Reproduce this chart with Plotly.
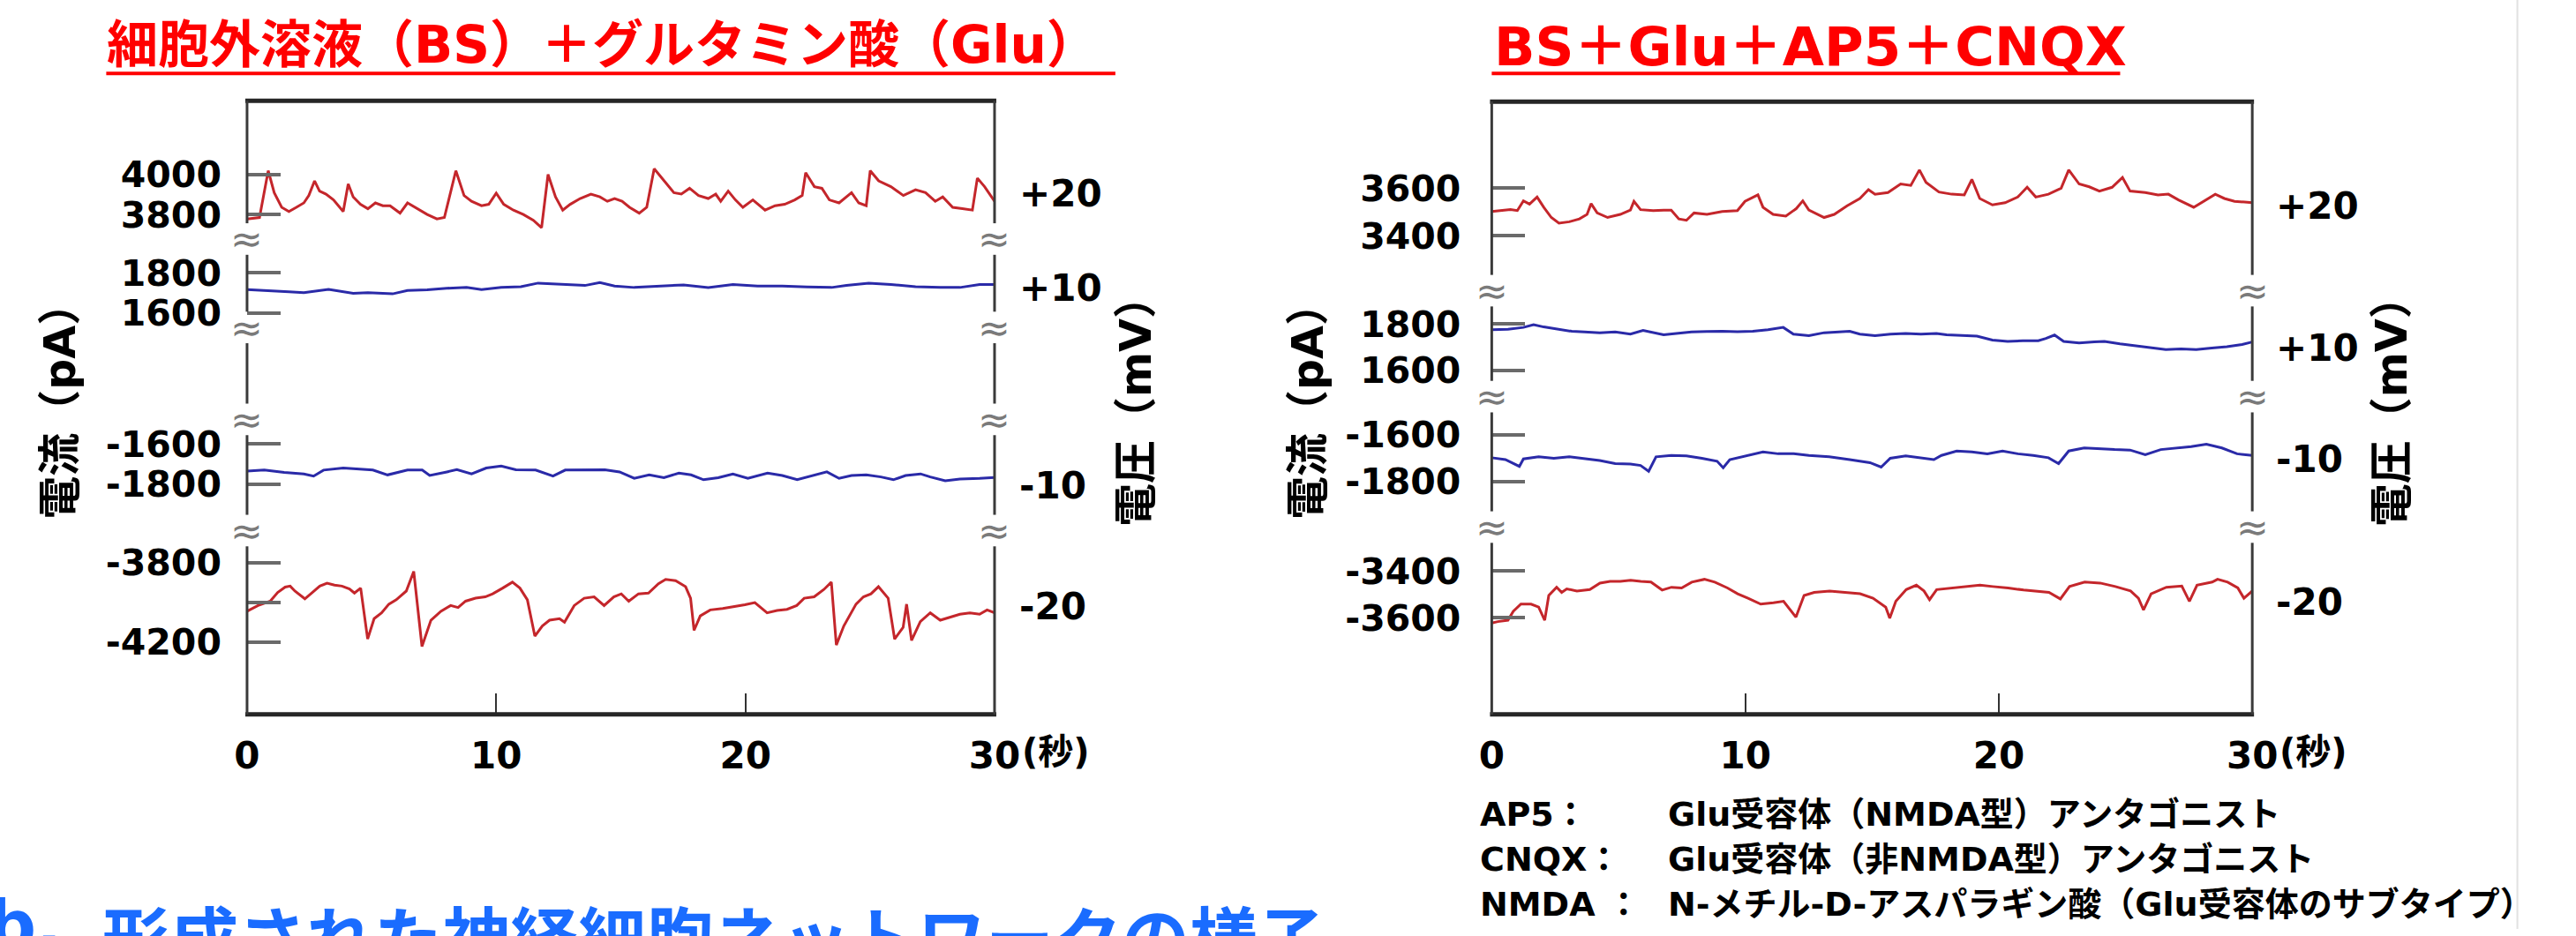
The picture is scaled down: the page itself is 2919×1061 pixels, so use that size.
import plotly.graph_objects as go

W, H = 2919, 1061
LAT = "DejaVu Sans, Noto Sans CJK JP, sans-serif"
JP = "Noto Sans CJK JP, DejaVu Sans, sans-serif"
RED = "#c4262b"
BLUE = "#2a2aa8"

# ---------------- data (time in s, current in pA) ----------------
# Left panel: BS + Glu
left_t_p20 = [0, 0.50, 0.85, 1.09, 1.39, 1.68, 1.98, 2.28, 2.48, 2.71, 2.91, 3.17, 3.47, 3.86, 4.06, 4.26, 4.55,
              4.85, 5.15, 5.45, 5.74, 6.14, 6.44, 6.83, 7.23, 7.62, 7.92, 8.38, 8.71, 9.01, 9.41, 9.70, 10.00,
              10.30, 10.69, 11.09, 11.49, 11.82, 12.08, 12.38, 12.67, 12.97, 13.37, 13.80, 14.16, 14.46, 14.75,
              15.05, 15.35, 15.74, 16.04, 16.34, 16.73, 17.13, 17.43, 17.76, 18.12, 18.51, 18.81, 19.01, 19.31,
              19.60, 19.90, 20.30, 20.79, 21.19, 21.58, 21.98, 22.28, 22.42, 22.77, 23.07, 23.37, 23.76, 24.26,
              24.55, 24.85, 25.01, 25.35, 25.84, 26.34, 26.83, 27.23, 27.62, 27.92, 28.32, 28.71, 29.11, 29.31,
              29.60, 30.00]
left_i_p20 = [3778, 3785, 4019, 3909, 3836, 3815, 3836, 3858, 3895, 3968, 3917, 3902, 3873, 3815, 3953, 3888, 3851,
              3829, 3858, 3844, 3844, 3807, 3858, 3829, 3800, 3778, 3785, 4019, 3895, 3866, 3844, 3851, 3907,
              3851, 3822, 3800, 3771, 3734, 4000, 3888, 3822, 3851, 3880, 3902, 3888, 3866, 3880,
              3866, 3836, 3807, 3836, 4029, 3968, 3909, 3902, 3931, 3895, 3880, 3902, 3866, 3917,
              3873, 3836, 3873, 3822, 3844, 3851, 3873, 3895, 4009, 3939, 3931, 3873, 3858, 3909,
              3858, 3844, 4019, 3968, 3939, 3895, 3924, 3909, 3866, 3888, 3836, 3829, 3822, 3982,
              3939, 3866]

left_t_p10 = [0, 0.89, 1.68, 2.28, 3.27, 4.26, 4.85, 5.84, 6.44, 7.23, 8.02, 8.81, 9.41, 10.20, 10.99, 11.68,
              12.57, 13.56, 14.16, 14.75, 15.54, 16.53, 17.52, 18.51, 19.50, 20.49, 21.48, 22.47, 23.46, 24.06,
              24.95, 25.84, 26.83, 27.82, 28.61, 29.40, 30.00]
left_i_p10 = [1717, 1709, 1705, 1701, 1717, 1698, 1701, 1695, 1712, 1715, 1723, 1727, 1717, 1727, 1731, 1749,
              1742, 1737, 1752, 1734, 1727, 1734, 1740, 1727, 1742, 1734, 1734, 1730, 1727, 1737,
              1749, 1742, 1731, 1727, 1727, 1742, 1742]

left_t_m10 = [0, 0.69, 1.49, 2.28, 2.67, 3.07, 3.86, 4.46, 5.05, 5.64, 6.44, 7.03, 7.33, 8.02, 8.42, 9.01, 9.60,
              10.20, 10.79, 11.58, 12.28, 12.77, 13.56, 14.36, 14.95, 15.54, 16.14, 16.73, 17.33, 17.82, 18.32,
              18.91, 19.50, 20.10, 20.89, 21.48, 22.08, 22.67, 23.27, 23.76, 24.26, 24.85, 25.44, 25.94, 26.43,
              27.03, 27.42, 28.02, 28.61, 29.40, 30.00]
left_i_m10 = [-1735, -1730, -1742, -1749, -1760, -1730, -1720, -1725, -1730, -1754, -1730, -1730, -1757, -1739,
              -1728, -1749, -1720, -1710, -1728, -1730, -1760, -1730, -1730, -1728, -1739, -1771, -1754, -1768,
              -1745, -1754, -1778, -1768, -1749, -1771, -1745, -1757, -1778, -1757, -1739, -1771, -1757, -1754,
              -1764, -1778, -1757, -1749, -1764, -1783, -1774, -1771, -1767]

left_t_m20 = [0, 0.44, 0.93, 1.23, 1.53, 1.73, 1.92, 2.32, 2.62, 2.92, 3.21, 3.51, 3.81, 4.11, 4.31, 4.56, 4.84,
              5.10, 5.40, 5.69, 5.99, 6.39, 6.69, 7.02, 7.38, 7.78, 8.17, 8.47, 8.77, 9.17, 9.56, 9.86, 10.26,
              10.65, 10.95, 11.25, 11.55, 11.85, 12.14, 12.54, 12.74, 13.13, 13.53, 13.93, 14.33, 14.72, 15.02,
              15.32, 15.71, 16.11, 16.51, 16.80, 17.20, 17.60, 17.80, 17.94, 18.19, 18.59, 19.09, 19.48, 19.98,
              20.38, 20.87, 21.27, 21.67, 22.06, 22.36, 22.76, 23.15, 23.45, 23.65, 23.95, 24.44, 24.74, 25.04,
              25.34, 25.73, 25.99, 26.33, 26.47, 26.67, 27.02, 27.42, 27.82, 28.21, 28.61, 29.01, 29.40, 29.70,
              30.00]
left_i_m20 = [-4045, -4016, -3994, -3950, -3923, -3918, -3943, -3982, -3950, -3918, -3903, -3913, -3918, -3932,
              -3953, -3928, -4185, -4082, -4053, -4009, -3987, -3943, -3844, -4222, -4090, -4045, -4016, -4026,
              -3994, -3979, -3972, -3957, -3928, -3898, -3928, -3987, -4170, -4119, -4090, -4082, -4100, -4016,
              -3979, -3972, -4016, -3972, -3957, -3994, -3957, -3953, -3906, -3884, -3891, -3921, -3979, -4141,
              -4068, -4038, -4031, -4023, -4012, -4001, -4053, -4041, -4035, -4016, -3979, -3972, -3935, -3898,
              -4215, -4119, -4009, -3972, -3957, -3921, -3979, -4185, -4126, -4009, -4192, -4097, -4053, -4090,
              -4075, -4060, -4053, -4060, -4038, -4053]

# Right panel: BS + Glu + AP5 + CNQX
right_t_p20 = [0, 0.34, 0.74, 1.01, 1.25, 1.49, 1.79, 2.05, 2.35, 2.65, 3.06, 3.46, 3.76, 3.92, 4.16, 4.57, 5.07,
               5.47, 5.61, 5.87, 6.37, 6.78, 7.08, 7.38, 7.68, 7.98, 8.49, 9.09, 9.69, 9.99, 10.50, 10.70, 11.10,
               11.60, 12.01, 12.27, 12.51, 13.11, 13.51, 14.02, 14.52, 14.86, 15.12, 15.63, 16.13, 16.53, 16.87,
               17.13, 17.64, 18.14, 18.64, 18.94, 19.25, 19.75, 20.25, 20.75, 21.12, 21.46, 21.96, 22.46, 22.76,
               23.17, 23.57, 23.97, 24.47, 24.88, 25.18, 25.78, 26.28, 26.69, 27.09, 27.69, 28.19, 28.54, 28.90,
               29.30, 29.70, 30.00]
right_i_p20 = [3502, 3506, 3510, 3506, 3547, 3533, 3563, 3520, 3477, 3453, 3459, 3471, 3490, 3535, 3496, 3477, 3490,
               3508, 3545, 3510, 3506, 3508, 3508, 3471, 3465, 3496, 3490, 3502, 3506, 3545, 3572, 3520, 3490,
               3483, 3514, 3547, 3508, 3477, 3490, 3526, 3557, 3594, 3575, 3582, 3618, 3612, 3677,
               3625, 3584, 3575, 3572, 3637, 3557, 3530, 3539, 3563, 3604, 3563, 3575, 3600, 3677,
               3618, 3606, 3588, 3604, 3645, 3588, 3582, 3572, 3575, 3551, 3520, 3551, 3575, 3557,
               3545, 3542, 3539]

right_t_p10 = [0, 0.64, 1.25, 1.65, 2.05, 2.65, 3.16, 3.66, 4.26, 4.87, 5.47, 5.97, 6.27, 6.78, 7.28, 7.88, 8.49,
               9.09, 9.69, 10.30, 10.90, 11.50, 11.90, 12.51, 13.11, 13.72, 14.12, 14.52, 15.12, 15.73, 16.33,
               16.93, 17.54, 17.94, 18.54, 19.14, 19.75, 20.35, 20.95, 21.56, 21.86, 22.20, 22.56, 23.17, 23.77,
               24.17, 24.78, 25.38, 25.98, 26.59, 27.19, 27.79, 28.40, 29.00, 29.60, 30.00]
right_i_p10 = [1775, 1777, 1785, 1797, 1787, 1777, 1768, 1765, 1762, 1765, 1756, 1772, 1765, 1753, 1759, 1765, 1767,
               1768, 1766, 1768, 1775, 1785, 1756, 1749, 1762, 1765, 1768, 1756, 1749, 1756, 1759,
               1756, 1759, 1753, 1749, 1747, 1730, 1724, 1727, 1727, 1737, 1752, 1724, 1718, 1722,
               1724, 1714, 1705, 1696, 1689, 1692, 1689, 1696, 1701, 1711, 1722]

right_t_m10 = [0, 0.54, 1.09, 1.25, 1.85, 2.45, 3.06, 3.66, 4.26, 4.87, 5.47, 5.87, 6.19, 6.48, 7.08, 7.68, 8.29,
               8.89, 9.13, 9.39, 9.89, 10.70, 11.30, 11.91, 12.51, 13.31, 14.12, 14.92, 15.36, 15.72, 16.33,
               16.93, 17.44, 17.74, 18.34, 18.94, 19.55, 20.15, 20.75, 21.36, 21.96, 22.36, 22.76, 23.37, 23.97,
               24.57, 25.18, 25.78, 26.39, 26.99, 27.59, 28.19, 28.80, 29.40, 30.00]
right_i_m10 = [-1698, -1706, -1735, -1703, -1694, -1700, -1694, -1703, -1710, -1723, -1725, -1731, -1756, -1694,
               -1688, -1690, -1700, -1713, -1741, -1706, -1694, -1673, -1681, -1681, -1688, -1694, -1706, -1719,
               -1738, -1700, -1690, -1698, -1706, -1688, -1669, -1673, -1681, -1669, -1681, -1688, -1698, -1723,
               -1669, -1656, -1660, -1663, -1665, -1685, -1663, -1656, -1650, -1640, -1656, -1681, -1688]

right_t_m20 = [0, 0.24, 0.64, 0.85, 1.15, 1.55, 1.85, 2.09, 2.25, 2.56, 2.76, 2.96, 3.36, 3.87, 4.27, 4.67, 5.07,
               5.48, 5.88, 6.28, 6.72, 7.09, 7.49, 7.89, 8.39, 8.80, 9.30, 9.70, 10.11, 10.61, 11.11, 11.51, 12.00,
               12.32, 12.72, 13.33, 13.93, 14.53, 15.04, 15.54, 15.70, 15.94, 16.35, 16.75, 17.05, 17.27, 17.55,
               18.16, 18.76, 19.26, 19.77, 20.37, 20.98, 21.48, 21.98, 22.43, 22.79, 23.39, 24.00, 24.60, 25.20,
               25.51, 25.71, 26.01, 26.61, 27.22, 27.52, 27.82, 28.42, 28.63, 29.03, 29.43, 29.67, 30.00]
right_i_m20 = [-3622, -3616, -3610, -3572, -3541, -3541, -3554, -3610, -3504, -3469, -3491, -3476, -3485, -3479,
               -3451, -3444, -3444, -3439, -3444, -3447, -3481, -3469, -3472, -3447, -3435, -3447, -3472, -3497,
               -3516, -3541, -3535, -3529, -3597, -3504, -3491, -3485, -3491, -3497, -3516, -3554, -3601, -3529,
               -3479, -3460, -3485, -3522, -3479, -3472, -3466, -3460, -3466, -3472, -3481, -3485, -3491, -3519,
               -3466, -3447, -3451, -3466, -3485, -3516, -3566, -3497, -3469, -3464, -3529, -3460, -3447, -3435,
               -3447, -3472, -3516, -3485]

# tick values / labels
x_tick_vals = [0, 10, 20, 30]
x_tick_text = ["0", "10", "20", "30"]
left_ticks = [([3800, 4000], ["3800", "4000"]),
              ([1600, 1800], ["1600", "1800"]),
              ([-1800, -1600], ["-1800", "-1600"]),
              ([-4200, -4000, -3800], ["-4200", "", "-3800"])]
right_ticks = [([3400, 3600], ["3400", "3600"]),
               ([1600, 1800], ["1600", "1800"]),
               ([-1800, -1600], ["-1800", "-1600"]),
               ([-3600, -3400], ["-3600", "-3400"])]
voltage_labels = ["+20", "+10", "-10", "-20"]
titles = ["細胞外溶液（BS）＋グルタミン酸（Glu）", "BS＋Glu＋AP5＋CNQX"]
legend_keys = ["AP5：", "CNQX：", "NMDA ："]
legend_desc = ["Glu受容体（NMDA型）アンタゴニスト",
               "Glu受容体（非NMDA型）アンタゴニスト",
               "N-メチル-D-アスパラギン酸（Glu受容体のサブタイプ）"]
bottom_text = "形成された神経細胞ネットワークの様子"

# ---------------- layout geometry (pixels) ----------------
panels = [
    dict(x0=269, x1=1129, top=115, bottom=816, breaks=[273, 374, 479, 606],
         # (top px, bottom px, value1, px1, value2, px2)
         segs=[(115, 273, 4000, 199.3, 3800, 245.0),
               (273, 374, 1800, 311.7, 1600, 357.3),
               (479, 606, -1600, 507.0, -1800, 553.0),
               (606, 816, -3800, 642.7, -4200, 733.3)],
         ticks=left_ticks,
         series=[(left_t_p20, left_i_p20, RED), (left_t_p10, left_i_p10, BLUE),
                 (left_t_m10, left_i_m10, BLUE), (left_t_m20, left_i_m20, RED)],
         mv_y=[221, 329, 555, 693], mv_x=1156, standoff=28,
         title=titles[0], title_x=107, title_y=51, title_size=58, ul=(107, 1268),
         ylab_x=54, vlab_x=1292),
    dict(x0=1701, x1=2576, top=116, bottom=816, breaks=[332, 453, 602],
         segs=[(116, 332, 3600, 215.0, 3400, 269.3),
               (332, 453, 1800, 370.0, 1600, 422.7),
               (453, 602, -1600, 496.7, -1800, 550.0),
               (602, 816, -3400, 652.3, -3600, 705.7)],
         ticks=right_ticks,
         series=[(right_t_p20, right_i_p20, RED), (right_t_p10, right_i_p10, BLUE),
                 (right_t_m10, right_i_m10, BLUE), (right_t_m20, right_i_m20, RED)],
         mv_y=[235, 397, 524, 688], mv_x=2602, standoff=34,
         title=titles[1], title_x=1703, title_y=53, title_size=61, ul=(1701, 2424),
         ylab_x=1490, vlab_x=2737),
]


def fx(p):
    return p / W


def fy(p):
    return 1 - p / H


def seg_range(top, bot, v1, p1, v2, p2):
    k = (v1 - v2) / (p2 - p1)
    return [v1 - (bot - p1) * k, v1 + (p1 - top) * k]


def ann(text, x, y, size, color="black", xanchor="center", yanchor="middle", angle=0,
        family=LAT, weight="bold", bg=None):
    d = dict(text=text, x=fx(x), y=fy(y), xref="paper", yref="paper", xanchor=xanchor,
             yanchor=yanchor, showarrow=False, textangle=angle, borderpad=0,
             font=dict(family=family, size=size, color=color, weight=weight))
    if bg:
        d["bgcolor"] = bg
    return d


def line(x0, y0, x1, y1, color, width):
    return dict(type="line", xref="paper", yref="paper", x0=fx(x0), y0=fy(y0), x1=fx(x1), y1=fy(y1),
                line=dict(color=color, width=width), layer="above")


fig = go.Figure()
layout = dict(width=W, height=H, margin=dict(l=0, r=0, t=0, b=0), paper_bgcolor="white",
              plot_bgcolor="rgba(0,0,0,0)", showlegend=False, shapes=[], annotations=[])

yidx = 0
for pi, p in enumerate(panels):
    xname = "xaxis" if pi == 0 else "xaxis2"
    xref = "x" if pi == 0 else "x2"
    seg_refs = []
    for si, seg in enumerate(p["segs"]):
        yidx += 1
        yname = "yaxis" if yidx == 1 else f"yaxis{yidx}"
        yref = "y" if yidx == 1 else f"y{yidx}"
        seg_refs.append(yref)
        top, bot = seg[0], seg[1]
        tv, tt = p["ticks"][si]
        layout[yname] = dict(domain=[fy(bot), fy(top)], range=seg_range(*seg), anchor=xref,
                             tickvals=tv, ticktext=tt, ticks="inside", ticklen=38, tickwidth=4,
                             tickcolor="#6a6a6a", showline=False, showgrid=False, zeroline=False,
                             ticklabelstandoff=p["standoff"], fixedrange=True,
                             tickfont=dict(family=LAT, size=41, color="black", weight="bold"))
        t, v, c = p["series"][si]
        fig.add_trace(go.Scatter(x=t, y=v, mode="lines", xaxis=xref, yaxis=yref,
                                 line=dict(color=c, width=3), hoverinfo="skip"))
    layout[xname] = dict(domain=[fx(p["x0"]), fx(p["x1"])], range=[0, 30], anchor=seg_refs[-1],
                         tickvals=x_tick_vals, ticktext=x_tick_text, ticks="inside", ticklen=24,
                         tickwidth=2, tickcolor="#333333", showline=False, showgrid=False,
                         zeroline=False, ticklabelstandoff=18, fixedrange=True,
                         tickfont=dict(family=LAT, size=42, color="black", weight="bold"))

    # frame: top / bottom
    layout["shapes"].append(line(p["x0"] - 2, p["top"], p["x1"] + 2, p["top"], "#262626", 5))
    layout["shapes"].append(line(p["x0"] - 2, p["bottom"], p["x1"] + 2, p["bottom"], "#262626", 5))
    # frame sides with gaps at breaks
    ys = [p["top"]]
    for b in p["breaks"]:
        ys += [b - 18, b + 18]
    ys.append(p["bottom"])
    for xs in (p["x0"], p["x1"]):
        for k in range(0, len(ys), 2):
            layout["shapes"].append(line(xs, ys[k], xs, ys[k + 1], "#3a3a3a", 3))
        for b in p["breaks"]:
            layout["annotations"].append(ann("≈", xs, b, 44, color="#7a7a7a", weight="normal"))

    # title + underline
    layout["annotations"].append(ann(p["title"], p["title_x"], p["title_y"], p["title_size"],
                                     color="#ff0000", xanchor="left"))
    layout["shapes"].append(line(p["ul"][0], 84, p["ul"][1], 84, "#ff0000", 4))
    # axis titles
    layout["annotations"].append(ann("電流（pA）", p["ylab_x"], 458, 49, angle=-90))
    layout["annotations"].append(ann("電圧（mV）", p["vlab_x"], 458, 49, angle=-90))
    # voltage labels
    for lab, yy in zip(voltage_labels, p["mv_y"]):
        layout["annotations"].append(ann(lab, p["mv_x"], yy, 42, xanchor="left"))
    # seconds unit
    layout["annotations"].append(ann("(秒)", p["x1"] + 30, 858, 40, xanchor="left"))

# legend text
for k, (key, desc) in enumerate(zip(legend_keys, legend_desc)):
    yy = 930 + 51.5 * k
    layout["annotations"].append(ann(key, 1686, yy, 38, xanchor="left"))
    layout["annotations"].append(ann(desc, 1903, yy, 38, xanchor="left"))

# bottom (cut-off) blue heading
layout["annotations"].append(ann("b.", -30, 1011, 77, color="#1a6cff", xanchor="left", yanchor="top"))
layout["annotations"].append(ann(bottom_text, 102, 1011, 77, color="#1a6cff", xanchor="left",
                                 yanchor="top", family=JP))

# faint page border line at right
layout["shapes"].append(line(2881, 0, 2881, H, "#e2e2e2", 2))

fig.update_layout(**layout)
fig.write_html("out.html", config={"displayModeBar": False},
               post_script="document.body.style.margin='0';document.body.style.overflow='hidden';")
